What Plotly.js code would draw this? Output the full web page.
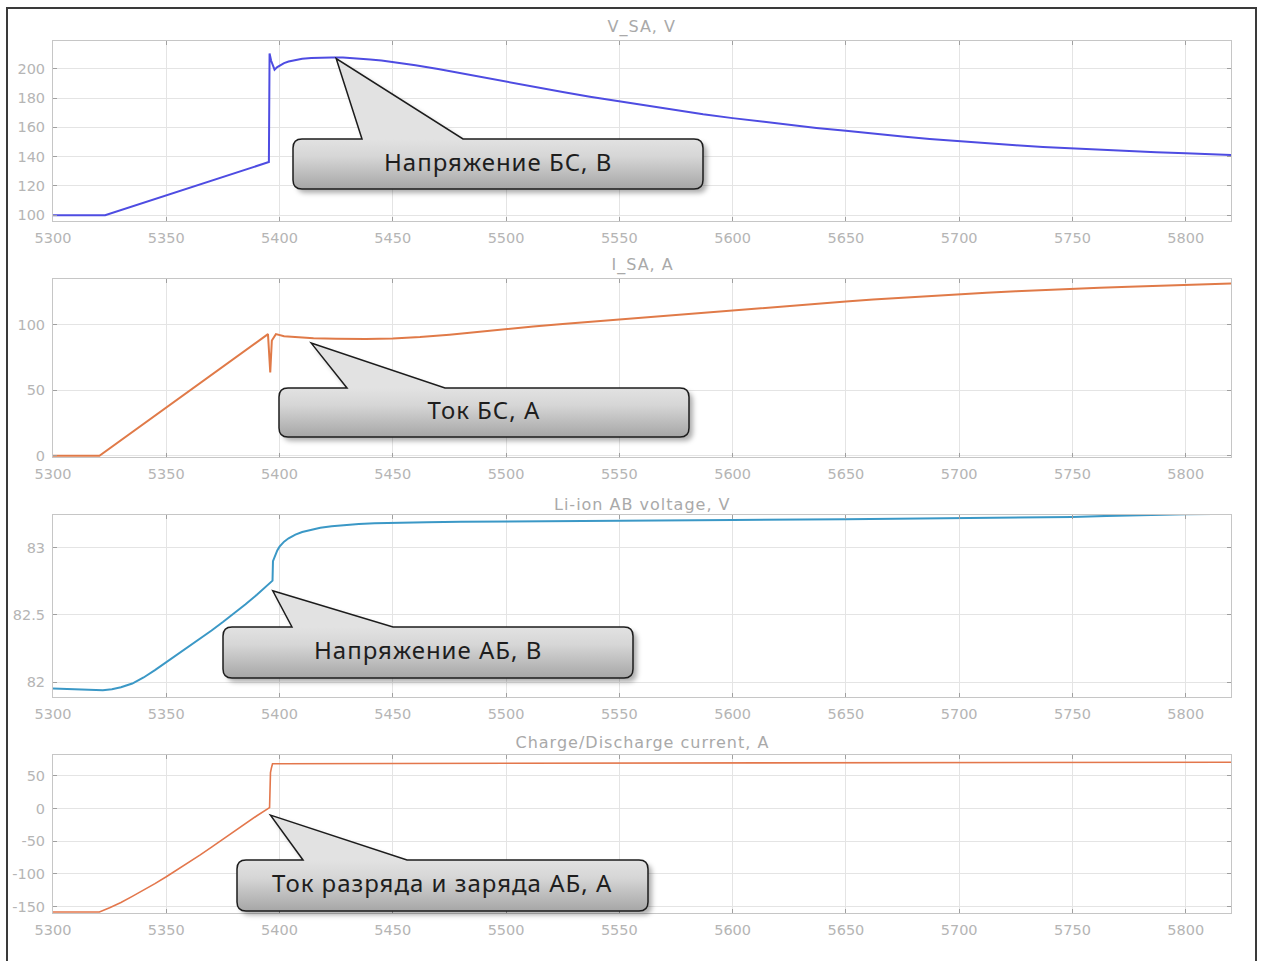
<!DOCTYPE html>
<html>
<head>
<meta charset="utf-8">
<script src="https://cdn.plot.ly/plotly-3.0.1.min.js"></script>
<style>
html,body{margin:0;padding:0;background:#fff;overflow:hidden}
#chart{width:1261px;height:961px;position:relative}
#frame{position:absolute;left:6px;top:7px;width:1251px;height:1000px;border:2.5px solid #3a3a3a;box-sizing:border-box;pointer-events:none}
#chart .annotation-text{letter-spacing:1px}
</style>
</head>
<body>
<div id="chart"></div>
<div id="frame"></div>
<script>
// ---------------- DATA ----------------
var xTicks = [5300, 5350, 5400, 5450, 5500, 5550, 5600, 5650, 5700, 5750, 5800];
var subplotTitles = ["V_SA, V", "I_SA, A", "Li-ion AB voltage, V", "Charge/Discharge current, A"];

// V_SA, V
var tVSA = [5300, 5323, 5395.3, 5395.6, 5396.3, 5397.8, 5399, 5400, 5402, 5404, 5407, 5410, 5414, 5418, 5423, 5428, 5432, 5436, 5440, 5445, 5450, 5455, 5460, 5470, 5480, 5490, 5500, 5512, 5525, 5537, 5550, 5562, 5575, 5587, 5600, 5612, 5625, 5637, 5650, 5662, 5675, 5687, 5700, 5712, 5725, 5737, 5750, 5762, 5775, 5787, 5800, 5810, 5820];
var vSA  = [100, 100, 136.3, 210.5, 205.5, 199.4, 201.2, 202.3, 203.9, 205.0, 206.2, 206.9, 207.4, 207.7, 207.8, 207.7, 207.4, 207.0, 206.4, 205.6, 204.6, 203.6, 202.5, 199.8, 196.9, 193.9, 191.0, 187.6, 184.1, 180.9, 177.7, 174.7, 171.7, 168.9, 166.3, 164.0, 161.8, 159.6, 157.6, 155.6, 153.7, 152.0, 150.4, 149.0, 147.7, 146.6, 145.6, 144.6, 143.8, 143.0, 142.3, 141.7, 141.1];

// I_SA, A
var tISA = [5300, 5320.5, 5394.9, 5395.4, 5395.9, 5396.6, 5398.4, 5402, 5408, 5415, 5425, 5438, 5450, 5462, 5475, 5487, 5500, 5512, 5525, 5537, 5550, 5562, 5575, 5587, 5600, 5612, 5625, 5637, 5650, 5662, 5675, 5687, 5700, 5712, 5725, 5737, 5750, 5762, 5775, 5787, 5800, 5810, 5820];
var iSA  = [0, 0, 92.9, 76, 63.6, 88, 92.9, 91.2, 90.3, 89.8, 89.3, 89.1, 89.5, 90.6, 92.4, 94.6, 97.0, 98.8, 100.6, 102.3, 104.0, 105.7, 107.4, 109.1, 110.8, 112.6, 114.3, 116.1, 117.8, 119.3, 120.8, 122.1, 123.4, 124.5, 125.6, 126.6, 127.5, 128.3, 129.1, 129.8, 130.5, 131.0, 131.6];

// Li-ion AB voltage, V
var tVAB = [5300, 5310, 5322, 5326, 5330, 5335, 5340, 5345, 5350, 5355, 5360, 5365, 5370, 5375, 5380, 5385, 5390, 5394, 5396.9, 5397.1, 5398, 5399, 5400, 5402, 5404, 5407, 5410, 5414, 5418, 5423, 5428, 5435, 5442, 5450, 5465, 5480, 5500, 5550, 5600, 5650, 5700, 5730, 5750, 5765, 5780, 5800, 5820];
var vAB  = [81.954, 81.948, 81.941, 81.948, 81.962, 81.99, 82.035, 82.09, 82.148, 82.204, 82.262, 82.322, 82.384, 82.447, 82.512, 82.58, 82.65, 82.708, 82.755, 82.9, 82.945, 82.98, 83.008, 83.045, 83.07, 83.097, 83.117, 83.135, 83.148, 83.16, 83.169, 83.176, 83.181, 83.185, 83.189, 83.192, 83.195, 83.201, 83.206, 83.211, 83.218, 83.224, 83.229, 83.236, 83.242, 83.248, 83.252];

// Charge/Discharge current, A
var tIAB = [5300, 5320.5, 5325, 5330, 5335, 5340, 5345, 5350, 5355, 5360, 5365, 5370, 5375, 5380, 5385, 5390, 5395.6, 5396.0, 5396.4, 5396.9, 5400, 5450, 5500, 5600, 5700, 5820];
var iAB  = [-158.5, -158.5, -152, -144, -134.6, -125, -115, -104.4, -93.4, -82.2, -71, -59, -47, -34.5, -22.5, -11, 1.5, 55, 62, 68.5, 68.7, 69.0, 69.3, 69.8, 70.3, 71.0];

// Callout labels and the data point each one points at
var calloutText = ["Напряжение БС, В", "Ток БС, А", "Напряжение АБ, В", "Ток разряда и заряда АБ, А"];
var calloutTipT = [5425, 5414, 5397, 5396];
var calloutTipV = [207, 86, 82.68, -10];

// ---------------- LAYOUT / STYLE ----------------
var W = 1261, H = 961;
var xPix = [53, 1231];
var rowPix = [[41, 221], [279, 457], [515, 697], [755, 913]];
var yRanges = [[96, 219], [-1, 135], [81.89, 83.243], [-160, 82]];
var yTickSets = [[100, 120, 140, 160, 180, 200], [0, 50, 100], [82, 82.5, 83], [-150, -100, -50, 0, 50]];
var xRange = [5300, 5820];
var lineColors = ["#4e4ce2", "#e07a48", "#3b98c6", "#e3774c"];
var lineWidths = [2, 2, 2, 1.6];
var titleY = [27, 265, 504, 742];
// callout box geometry (pixels): left, top, right, bottom, base-left, base-right
var calloutBox = [
  [293, 139, 703, 189, 362, 463],
  [279, 388, 689, 437, 347, 445],
  [223, 627, 633, 678, 292, 393],
  [237, 860, 648, 911, 303, 407]
];

var xDom = [xPix[0] / W, xPix[1] / W];
function px(X) { return X / W; }
function py(Y) { return 1 - Y / H; }

var series = [[tVSA, vSA], [tISA, iSA], [tVAB, vAB], [tIAB, iAB]];
var traces = series.map(function (s, i) {
  return {
    x: s[0], y: s[1], type: 'scatter', mode: 'lines',
    xaxis: i === 0 ? 'x' : 'x' + (i + 1),
    yaxis: i === 0 ? 'y' : 'y' + (i + 1),
    line: { color: lineColors[i], width: lineWidths[i], shape: 'linear' },
    hoverinfo: 'skip', showlegend: false
  };
});

var axisCommon = {
  showline: true, linecolor: '#c6c6c6', linewidth: 1, mirror: 'allticks',
  ticks: 'inside', ticklen: 4, tickcolor: '#a0a0a0', tickwidth: 1,
  showgrid: true, gridcolor: '#e4e4e4', gridwidth: 1, zeroline: false,
  tickfont: { family: 'DejaVu Sans', size: 14.5, color: '#b5b5b5' },
  fixedrange: true, automargin: false
};
function merge(a, b) { var o = {}; for (var k in a) o[k] = a[k]; for (var k2 in b) o[k2] = b[k2]; return o; }

var layout = {
  width: W, height: H,
  margin: { l: 0, r: 0, t: 0, b: 0, pad: 0 },
  paper_bgcolor: '#ffffff', plot_bgcolor: '#ffffff',
  showlegend: false,
  shapes: [], annotations: []
};

for (var i = 0; i < 4; i++) {
  var xs = i === 0 ? 'xaxis' : 'xaxis' + (i + 1);
  var ys = i === 0 ? 'yaxis' : 'yaxis' + (i + 1);
  var yDom = [py(rowPix[i][1]), py(rowPix[i][0])];
  layout[xs] = merge(axisCommon, {
    domain: xDom, range: xRange, tickvals: xTicks, ticktext: xTicks.map(String),
    anchor: i === 0 ? 'y' : 'y' + (i + 1), ticklabelstandoff: 4
  });
  layout[ys] = merge(axisCommon, {
    domain: yDom, range: yRanges[i], tickvals: yTickSets[i], ticktext: yTickSets[i].map(String),
    anchor: i === 0 ? 'x' : 'x' + (i + 1), ticklabelstandoff: 4
  });
  layout.annotations.push({
    text: subplotTitles[i], xref: 'paper', yref: 'paper',
    x: (xDom[0] + xDom[1]) / 2, y: py(titleY[i]), xanchor: 'center', yanchor: 'middle',
    showarrow: false, font: { family: 'DejaVu Sans', size: 16, color: '#a9a9a9' }
  });
}

// tip pixel positions derived from the axes' linear scales
function tipPixel(i) {
  var t = calloutTipT[i], v = calloutTipV[i];
  var X = xPix[0] + (t - xRange[0]) / (xRange[1] - xRange[0]) * (xPix[1] - xPix[0]);
  var r = yRanges[i];
  var Y = rowPix[i][0] + (r[1] - v) / (r[1] - r[0]) * (rowPix[i][1] - rowPix[i][0]);
  return [X, Y];
}
function calloutPath(i, dx, dy) {
  var b = calloutBox[i], tip = tipPixel(i), r = 9;
  var L = b[0] + dx, T = b[1] + dy, R = b[2] + dx, B = b[3] + dy, b1 = b[4] + dx, b2 = b[5] + dx;
  var tx = tip[0] + dx, ty = tip[1] + dy;
  function P(X, Y) { return px(X) + ',' + py(Y); }
  return 'M' + P(b1, T) + ' L' + P(tx, ty) + ' L' + P(b2, T) +
    ' L' + P(R - r, T) + ' Q' + P(R, T) + ' ' + P(R, T + r) +
    ' L' + P(R, B - r) + ' Q' + P(R, B) + ' ' + P(R - r, B) +
    ' L' + P(L + r, B) + ' Q' + P(L, B) + ' ' + P(L, B - r) +
    ' L' + P(L, T + r) + ' Q' + P(L, T) + ' ' + P(L + r, T) + ' Z';
}
for (var c = 0; c < 4; c++) {
  layout.shapes.push({
    type: 'path', xref: 'paper', yref: 'paper', layer: 'above',
    path: calloutPath(c, 4, 4), fillcolor: 'rgba(0,0,0,0.32)', line: { width: 0 }
  });
  layout.shapes.push({
    type: 'path', xref: 'paper', yref: 'paper', layer: 'above',
    path: calloutPath(c, 0, 0), fillcolor: '#c8c8c8', line: { color: '#1c1c1c', width: 1.5 }
  });
  var bb = calloutBox[c];
  layout.annotations.push({
    text: calloutText[c], xref: 'paper', yref: 'paper',
    x: px((bb[0] + bb[2]) / 2), y: py((bb[1] + bb[3]) / 2 - 3), xanchor: 'center', yanchor: 'middle',
    showarrow: false, font: { family: 'Noto Sans', size: 24, color: '#1e1e1e' }
  });
}

Plotly.newPlot('chart', traces, layout, { staticPlot: true, displayModeBar: false }).then(function (gd) {
  var NS = 'http://www.w3.org/2000/svg';
  var svg = gd.querySelector('svg.main-svg');
  var defs = svg.querySelector('defs');
  var f = document.createElementNS(NS, 'filter');
  f.setAttribute('id', 'cshadow'); f.setAttribute('x', '-20%'); f.setAttribute('y', '-20%');
  f.setAttribute('width', '140%'); f.setAttribute('height', '140%');
  var bl = document.createElementNS(NS, 'feGaussianBlur'); bl.setAttribute('stdDeviation', '2.5');
  f.appendChild(bl); defs.appendChild(f);
  for (var k = 0; k < 4; k++) {
    var g = document.createElementNS(NS, 'linearGradient');
    g.setAttribute('id', 'cgrad' + k); g.setAttribute('gradientUnits', 'userSpaceOnUse');
    g.setAttribute('x1', 0); g.setAttribute('x2', 0);
    g.setAttribute('y1', calloutBox[k][1]); g.setAttribute('y2', calloutBox[k][3]);
    [['0', '#e2e2e2'], ['0.35', '#d6d6d6'], ['1', '#a6a6a6']].forEach(function (s) {
      var st = document.createElementNS(NS, 'stop');
      st.setAttribute('offset', s[0]); st.setAttribute('stop-color', s[1]); g.appendChild(st);
    });
    defs.appendChild(g);
  }
  var paths = gd.querySelectorAll('.layer-above .shapelayer path');
  paths.forEach(function (p, n) {
    var idx = p.getAttribute('data-index');
    idx = idx === null ? n : +idx;
    var ci = Math.floor(idx / 2);
    if (idx % 2 === 0) { p.style.filter = 'url(#cshadow)'; }
    else { p.style.fill = 'url(#cgrad' + ci + ')'; p.style.fillOpacity = 1; }
  });
});
</script>
</body>
</html>
